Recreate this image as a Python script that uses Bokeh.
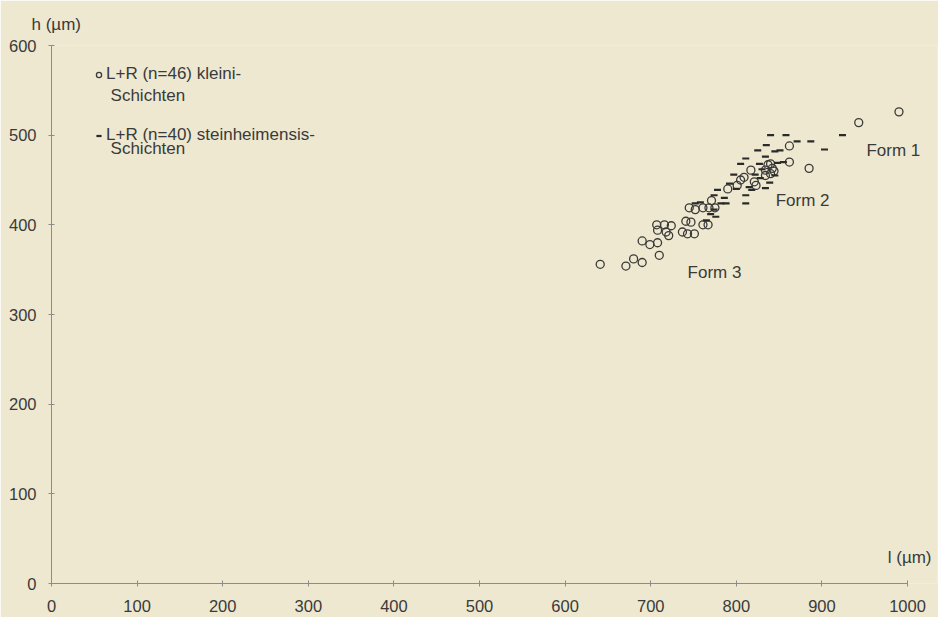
from bokeh.plotting import figure
from bokeh.models import Range1d, Legend, LegendItem, Label, FixedTicker, Title
from bokeh.embed import file_html
from bokeh.resources import INLINE

# kleini-Schichten (circles)
kleini_l = [641, 671, 680, 690, 690, 699, 708, 710, 707, 716, 724, 708, 718, 721,
            741, 747, 761, 767, 737, 743, 751, 745, 752, 761, 768, 775, 771,
            817, 809, 805, 801, 821, 823, 834, 837, 840, 842, 844, 840, 834,
            862, 885, 862, 943, 990, 790]
kleini_h = [356, 354, 362, 358, 382, 378, 380, 366, 400, 400, 399, 394, 392, 388,
            404, 403, 400, 400, 392, 390, 390, 419, 417, 419, 419, 419, 427,
            461, 453, 450, 444, 448, 444, 461, 467, 468, 463, 460, 457, 455,
            470, 463, 488, 514, 526, 440]

# steinheimensis-Schichten (dashes)
stein_l = [752, 758, 782, 776, 774, 788, 811, 778, 774, 797, 805, 827, 834, 848,
           818, 839, 834, 840, 858, 871, 887, 903, 924, 825, 835, 811, 815, 811,
           792, 800, 822, 830, 845, 851, 765, 770, 845, 855, 786, 828]
stein_h = [424, 425, 424, 409, 417, 424, 424, 439, 433, 456, 468, 468, 476, 469,
           439, 447, 441, 500, 500, 493, 493, 484, 500, 483, 489, 474, 442, 433,
           446, 440, 456, 462, 482, 483, 405, 412, 455, 470, 430, 452]

x_ticks = [0, 100, 200, 300, 400, 500, 600, 700, 800, 900, 1000]
y_ticks = [0, 100, 200, 300, 400, 500, 600]

legend_labels = ["L+R (n=46) kleini-", "L+R (n=40) steinheimensis-"]
legend_second = ["Schichten", "Schichten"]
form_labels = ["Form 1", "Form 2", "Form 3"]

BG = "#EEE8D0"
INK = "#3a3a3a"
AX = "#8c8c8c"
FONT = "Liberation Sans"

p = figure(width=938, height=617, output_backend="svg", toolbar_location=None,
           x_range=Range1d(0, 1035), y_range=Range1d(0, 600),
           min_border_left=51, min_border_right=1, min_border_top=45, min_border_bottom=34)
p.background_fill_color = BG
p.border_fill_color = BG
p.outline_line_color = None
p.xgrid.visible = False
p.ygrid.visible = False

for ax, ticks in ((p.xaxis, x_ticks), (p.yaxis, y_ticks)):
    ax.ticker = FixedTicker(ticks=ticks)
    ax.major_tick_in = 3
    ax.major_tick_out = 3
    ax.minor_tick_line_color = None
    ax.axis_line_color = AX
    ax.major_tick_line_color = AX
    ax.major_label_text_font = FONT
    ax.major_label_text_font_size = "16.5px"
    ax.major_label_text_color = INK
p.xaxis.bounds = (0, 1000)
p.xaxis.major_label_standoff = 13
p.yaxis.major_label_standoff = 12

r1 = p.scatter(kleini_l, kleini_h, marker="circle", size=8, fill_color=None,
               line_color=INK, line_width=1.3)
r2 = p.scatter(stein_l, stein_h, marker="dash", size=7, line_color="#2a2a2a", line_width=2.2)

legend = Legend(items=[LegendItem(label=legend_labels[0], renderers=[r1]),
                       LegendItem(label=legend_labels[1], renderers=[r2])],
                location=(41, 438), orientation="vertical",
                background_fill_alpha=0, border_line_color=None,
                padding=0, margin=0, spacing=41,
                glyph_width=13, glyph_height=13, label_height=17, label_standoff=1,
                label_text_font=FONT, label_text_font_size="17px", label_text_color=INK)
p.add_layout(legend)

def add_text(x, y, t, align="left"):
    p.add_layout(Label(x=x, y=y, text=t, text_font=FONT, text_font_size="17px",
                       text_color=INK, text_align=align, text_baseline="middle"))

add_text(69, 544, legend_second[0])
add_text(69, 485, legend_second[1])
add_text(952, 483, form_labels[0])
add_text(846, 427, form_labels[1])
add_text(743, 347, form_labels[2])
add_text(1028, 29, "l (µm)", align="right")

p.add_layout(Title(text="h (µm)", align="left", offset=-20, standoff=24,
                   text_font=FONT, text_font_size="17px", text_font_style="normal",
                   text_color=INK), "above")

open("out.html", "w").write(file_html(p, INLINE))
